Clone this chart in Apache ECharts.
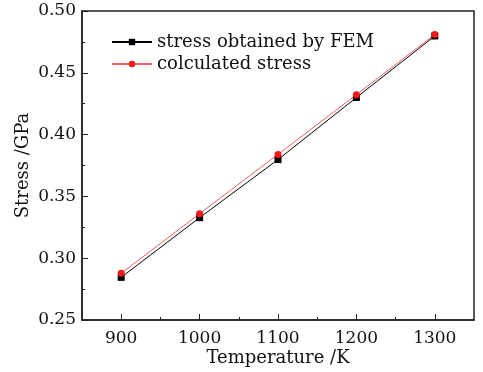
<!DOCTYPE html>
<html>
<head>
<meta charset="utf-8">
<style>
  html, body { margin: 0; padding: 0; background: #fff; }
  #chart { width: 483px; height: 372px; }
</style>
<script src="https://cdn.jsdelivr.net/npm/echarts@6/dist/echarts.min.js"></script>
</head>
<body>
<div id="chart"></div>
<script>
// temperature (K)
var temps = [900, 1000, 1100, 1200, 1300]
// stress (GPa)
var femStress = [0.2845, 0.3328, 0.3798, 0.4300, 0.4798]
var calcStress = [0.2878, 0.3360, 0.3840, 0.4323, 0.4810]
var xLabels = [900, 1000, 1100, 1200, 1300]
var xMinorTicks = [950, 1050, 1150, 1250]

var font = 'DejaVu Serif'

function pairs (xs, ys) {
  return xs.map(function (x, i) { return [x, ys[i]] })
}

var chart = echarts.init(document.getElementById('chart'))
chart.setOption({
  animation: false,
  backgroundColor: '#fff',
  textStyle: { fontFamily: font, color: '#111' },
  grid: {
    left: 82, right: 9, top: 11, bottom: 52,
    show: true, borderColor: '#222', borderWidth: 1.5,
    containLabel: false,
    outerBoundsMode: 'none'
  },
  legend: {
    left: 106, top: 28,
    orient: 'vertical',
    itemWidth: 40, itemHeight: 8, itemGap: 4,
    textStyle: { fontFamily: font, fontSize: 18, color: '#111' },
    data: ['stress obtained by FEM', 'colculated stress']
  },
  xAxis: [{
    type: 'value', min: 850, max: 1350, interval: 50,
    axisLine: { onZero: false, lineStyle: { color: '#222', width: 1.5 } },
    axisTick: { inside: true, length: 6, customValues: xLabels, lineStyle: { color: '#222' } },
    axisLabel: {
      customValues: xLabels, fontFamily: font, fontSize: 17, color: '#111', margin: 10,
      formatter: function (v) { return String(v) }
    },
    splitLine: { show: false },
    name: 'Temperature /K', nameLocation: 'middle', nameGap: 29, nameMoveOverlap: false,
    nameTextStyle: { fontFamily: font, fontSize: 18, color: '#111' }
  }, {
    type: 'value', min: 850, max: 1350, interval: 50, position: 'bottom',
    axisLine: { show: false },
    axisTick: { inside: true, length: 3, customValues: xMinorTicks, lineStyle: { color: '#222' } },
    axisLabel: { show: false },
    splitLine: { show: false }
  }],
  yAxis: {
    type: 'value', min: 0.25, max: 0.5, interval: 0.05,
    axisLine: { show: true, lineStyle: { color: '#222', width: 1.5 } },
    axisTick: { inside: true, length: 6, lineStyle: { color: '#222' } },
    minorTick: { show: true, splitNumber: 2, length: 3, lineStyle: { color: '#222' } },
    axisLabel: {
      fontFamily: font, fontSize: 17, color: '#111', margin: 6,
      formatter: function (v) { return v.toFixed(2) }
    },
    splitLine: { show: false },
    name: 'Stress /GPa', nameLocation: 'middle', nameGap: 50, nameMoveOverlap: false,
    nameTextStyle: { fontFamily: font, fontSize: 18, color: '#111' }
  },
  series: [{
    name: 'stress obtained by FEM',
    type: 'line',
    data: pairs(temps, femStress),
    symbol: 'rect', symbolSize: 7,
    itemStyle: { color: '#000' },
    lineStyle: { color: '#000', width: 1 }
  }, {
    name: 'colculated stress',
    type: 'line',
    data: pairs(temps, calcStress),
    symbol: 'circle', symbolSize: 7,
    itemStyle: { color: '#f01818' },
    lineStyle: { color: '#f06060', width: 1 }
  }]
})
</script>
</body>
</html>
